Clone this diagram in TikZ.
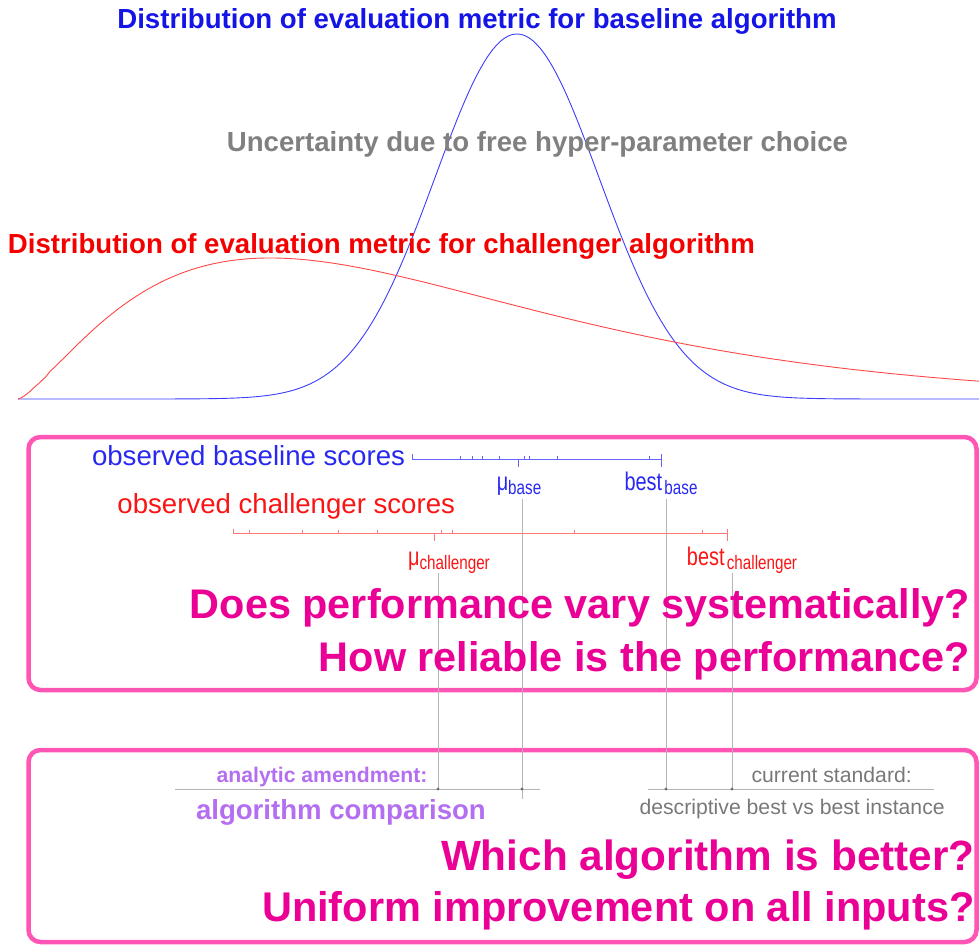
\documentclass[tikz,border=0pt]{standalone}
\usepackage{fontspec}
\setmainfont{Liberation Sans}
\usepackage{graphicx}
\usepackage{xcolor}

\definecolor{titleblue}{RGB}{20,20,230}
\definecolor{titlered}{RGB}{245,0,0}
\definecolor{titlegray}{RGB}{128,128,128}
\definecolor{scoreblue}{RGB}{40,40,240}
\definecolor{scorered}{RGB}{250,20,20}
\definecolor{curveblue}{RGB}{60,60,255}
\definecolor{curvered}{RGB}{255,70,70}
\definecolor{lineblue}{RGB}{100,100,255}
\definecolor{linered}{RGB}{255,120,120}
\definecolor{askpink}{RGB}{235,0,150}
\definecolor{boxpink}{RGB}{255,85,180}
\definecolor{amendpurple}{RGB}{180,110,240}
\definecolor{stdgray}{RGB}{120,120,120}
\definecolor{guidegray}{RGB}{180,180,180}
\definecolor{dotgray}{RGB}{110,110,110}

\newcommand{\scorelabel}[3][0pt]{\scalebox{0.78}[1]{\fontsize{25.5}{28}\selectfont #2\hspace{#1}\raisebox{-3.3pt}{\fontsize{19.5}{20}\selectfont #3}}}

\begin{document}
\begin{tikzpicture}[x=1pt, y=-1pt,
                every node/.style={inner sep=0pt, outer sep=0pt},
                title/.style={font=\bfseries\fontsize{27.6}{30}\selectfont},
                big/.style={font=\fontsize{27.6}{30}\selectfont},
                question/.style={font=\bfseries\fontsize{41.4}{44}\selectfont, text=askpink, anchor=base east},
                panel/.style={draw=boxpink, line width=4.5pt, rounded corners=12pt},
                guide/.style={draw=guidegray, line width=0.9pt},
                rule/.style={draw=guidegray, line width=1pt},
                bscore/.style={draw=lineblue, line width=0.9pt},
                rscore/.style={draw=linered, line width=0.9pt}]
                \useasboundingbox (0,0) rectangle (979,945);

                % the two distributions
                \draw[curveblue, line width=0.9pt] plot[domain=18:979, samples=240]
                    (\x, {399-365*exp(-0.5*((\x-517)/82)^2)});
                \draw[curvered, line width=0.9pt] (18,399) -- plot[domain=3:961, samples=300, smooth]
                    ({\x+18}, {399-141*exp(1.4*ln(\x/252))*exp(-(\x-252)/180)});

                \node[title, text=titleblue, anchor=base] (baseT) at (477,28) {Distribution of evaluation metric for baseline algorithm};
                \node[title, text=titlegray, anchor=base] (hypT) at (537.5,151) {Uncertainty due to free hyper-parameter choice};
                \node[title, text=titlered, anchor=base west] (challT) at (8,253) {Distribution of evaluation metric for challenger algorithm};

                % panels
                \draw[panel] (28.5,437) rectangle (976.5,690);
                \draw[panel] (28.5,750) rectangle (976.5,942);

                \coordinate (mucTop) at (438,573);
                \coordinate (mucDot) at (438,789);
                \coordinate (mubTop) at (522,499);
                \coordinate (mubDot) at (522,789);
                \coordinate (mubEnd) at (522,799);
                \coordinate (bbTop) at (666,499);
                \coordinate (bbDot) at (666,789);
                \coordinate (bcTop) at (732,573);
                \coordinate (bcDot) at (732,789);
                \coordinate (ruleA) at (175,789);
                \coordinate (ruleB) at (540,789);
                \coordinate (ruleC) at (648,789);
                \coordinate (ruleD) at (934,789);

                \draw[guide] (mucTop) -- (mucDot);
                \draw[guide] (mubTop) -- (mubEnd);
                \draw[guide] (bbTop) -- (bbDot);
                \draw[guide] (bcTop) -- (bcDot);
                \draw[rule] (ruleA) -- (ruleB);
                \draw[rule] (ruleC) -- (ruleD);
                \fill[dotgray] (mucDot) circle (1.6) (mubDot) circle (1.6) (bbDot) circle (1.6) (bcDot) circle (1.6);

                % observed scores
                \coordinate (bL) at (412,459);
                \coordinate (bR) at (661,459);
                \draw[bscore] (bL) -- (bR);
                \draw[bscore] (bL) -- ++(0,-4.7) (bR) ++(0,-4.7) -- ++(0,13) (518,459) -- ++(0,8.3);
                \draw[bscore] (460,459) -- ++(0,-2.7) (472,459) -- ++(0,-2.7) (482,459) -- ++(0,-2.7)
                    (499,459) -- ++(0,-2.7) (524,459) -- ++(0,-2.7) (529,459) -- ++(0,-2.7)
                    (557,459) -- ++(0,-2.7) (649,459) -- ++(0,-2.7);

                \coordinate (rL) at (233,533);
                \coordinate (rR) at (727,533);
                \draw[rscore] (rL) -- (rR);
                \draw[rscore] (rL) -- ++(0,-4) (rR) ++(0,-4) -- ++(0,12) (434,533) -- ++(0,8);
                \draw[rscore] (249,533) -- ++(0,-2.7) (302,533) -- ++(0,-2.7) (338,533) -- ++(0,-2.7)
                    (377,533) -- ++(0,-2.7) (441,533) -- ++(0,-2.7) (452,533) -- ++(0,-2.7)
                    (574,533) -- ++(0,-2.7) (702,533) -- ++(0,-2.7);

                \node[big, text=scoreblue, anchor=base east] (baseObs) at (405,465) {observed baseline scores};
                \node[big, text=scorered, anchor=base east] (challObs) at (455,513.5) {observed challenger scores};

                \node[text=scoreblue, anchor=base] (mub) at (519,490.7) {\scorelabel{μ}{base}};
                \node[text=scoreblue, anchor=base] (bb) at (661,490.7) {\scorelabel[3pt]{best}{base}};
                \node[text=scorered, anchor=base] (muc) at (449,565.7) {\scorelabel{μ}{challenger}};
                \node[text=scorered, anchor=base] (bc) at (742,565.7) {\scorelabel[3pt]{best}{challenger}};

                \node[question] (ask1) at (970,618) {Does performance vary systematically?};
                \node[question] (ask2) at (970,671) {How reliable is the performance?};

                % comparison panel
                \node[anchor=base east, font=\bfseries\fontsize{21.2}{24}\selectfont, text=amendpurple] (amendT) at (427.5,782.3) {analytic amendment:};
                \node[anchor=base west, font=\bfseries\fontsize{27.6}{30}\selectfont, text=amendpurple] (compT) at (196,819) {algorithm comparison};
                \node[anchor=base west, font=\fontsize{21.2}{24}\selectfont, text=stdgray] (stdT) at (751.5,782.3) {current standard:};
                \node[anchor=base west, font=\fontsize{21.2}{24}\selectfont, text=stdgray] (descT) at (639.5,814.3) {descriptive best vs best instance};

                \node[question, font=\bfseries\fontsize{42.3}{44}\selectfont] (ask3) at (974.5,870) {Which algorithm is better?};
                \node[question, font=\bfseries\fontsize{41.5}{44}\selectfont] (ask4) at (974.5,921) {Uniform improvement on all inputs?};
            \end{tikzpicture}
\end{document}
